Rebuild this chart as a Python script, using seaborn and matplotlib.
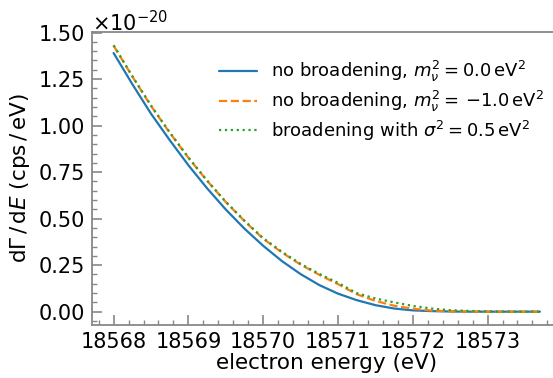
import numpy as np
import pandas as pd
import matplotlib
matplotlib.use("Agg")
import matplotlib.pyplot as plt
from matplotlib.ticker import MultipleLocator, FuncFormatter
import seaborn as sns

# electron energy (eV)
energy = [18568.0, 18568.25, 18568.5, 18568.75, 18569.0, 18569.25, 18569.5, 18569.75,
          18570.0, 18570.25, 18570.5, 18570.75, 18571.0, 18571.25, 18571.5, 18571.75,
          18572.0, 18572.25, 18572.5, 18572.75, 18573.0, 18573.25, 18573.5, 18573.7]

# dGamma/dE in units of 1e-20 cps/eV
no_broad_m0 = [1.390, 1.223, 1.064, 0.922, 0.787, 0.663, 0.549, 0.446,
               0.354, 0.272, 0.202, 0.143, 0.097, 0.062, 0.035, 0.017,
               0.007, 0.003, 0.001, 0.0, 0.0, 0.0, 0.0, 0.0]
no_broad_mneg = [1.430, 1.264, 1.106, 0.962, 0.827, 0.703, 0.589, 0.487,
                 0.392, 0.318, 0.253, 0.198, 0.148, 0.094, 0.058, 0.032,
                 0.016, 0.006, 0.002, 0.0005, 0.0, 0.0, 0.0, 0.0]
broad_sigma = [1.432, 1.266, 1.108, 0.964, 0.829, 0.705, 0.591, 0.489,
               0.395, 0.322, 0.257, 0.203, 0.155, 0.100, 0.071, 0.050,
               0.031, 0.017, 0.008, 0.004, 0.0015, 0.0005, 0.0001, 0.0]

labels = [r'no broadening, $m_\nu^2 = 0.0\,\mathrm{eV}^2$',
          r'no broadening, $m_\nu^2 = \,{-}1.0\,\mathrm{eV}^2$',
          r'broadening with $\sigma^2 = 0.5\,\mathrm{eV}^2$']

sns.set_style("ticks")
plt.rcParams['font.family'] = ['DejaVu Sans']
plt.rcParams['text.color'] = 'black'
plt.rcParams['axes.labelcolor'] = 'black'
plt.rcParams['xtick.labelcolor'] = 'black'
plt.rcParams['ytick.labelcolor'] = 'black'

fig = plt.figure(figsize=(5.53, 3.78), dpi=100)
ax = fig.add_axes([0.1669, 0.141, 0.848, 0.7743])

scale = 1e-20
series = [no_broad_m0, no_broad_mneg, broad_sigma]
colors = ['#1f77b4', '#ff7f0e', '#2ca02c']
styles = ['-', '--', ':']
for vals, lab, c, ls in zip(series, labels, colors, styles):
    sns.lineplot(x=energy, y=np.array(vals) * scale, ax=ax, color=c,
                 linestyle=ls, linewidth=1.6, label=lab)

ax.set_xlim(18567.715, 18573.985)
ax.set_ylim(-0.07e-20, 1.503e-20)
ax.xaxis.set_major_locator(MultipleLocator(1))
ax.xaxis.set_minor_locator(MultipleLocator(0.2))
ax.yaxis.set_major_locator(MultipleLocator(0.25e-20))
ax.yaxis.set_minor_locator(MultipleLocator(0.05e-20))
ax.ticklabel_format(axis='x', useOffset=False, style='plain')
ax.yaxis.set_major_formatter(FuncFormatter(lambda v, p: f'{v / scale:.2f}'))
ax.text(0.0, 1.004, r'$\times10^{-20}$', transform=ax.transAxes,
        ha='left', va='baseline', fontsize=15, color='black')

gray = '#888888'
for s in ['left', 'bottom', 'top']:
    ax.spines[s].set_color(gray)
    ax.spines[s].set_linewidth(1.3)
ax.spines['right'].set_visible(False)
ax.tick_params(which='major', direction='in', length=7, width=1.2, color=gray,
               labelsize=15, pad=5, top=False, right=False)
ax.tick_params(which='minor', direction='in', length=3.5, width=1.0, color=gray,
               top=False, right=False)

ax.set_xlabel('electron energy (eV)', fontsize=15.5, labelpad=1)
ax.set_ylabel(r'$\mathrm{d}\Gamma\,/\,\mathrm{d}E$ (cps$\,/\,$eV)', fontsize=15.5,
              labelpad=5)

ax.legend(loc='upper right', frameon=False, fontsize=13,
          bbox_to_anchor=(0.997, 0.962), handlelength=2.1, handletextpad=0.75,
          labelspacing=0.25)

fig.savefig('out.png', dpi=100)
